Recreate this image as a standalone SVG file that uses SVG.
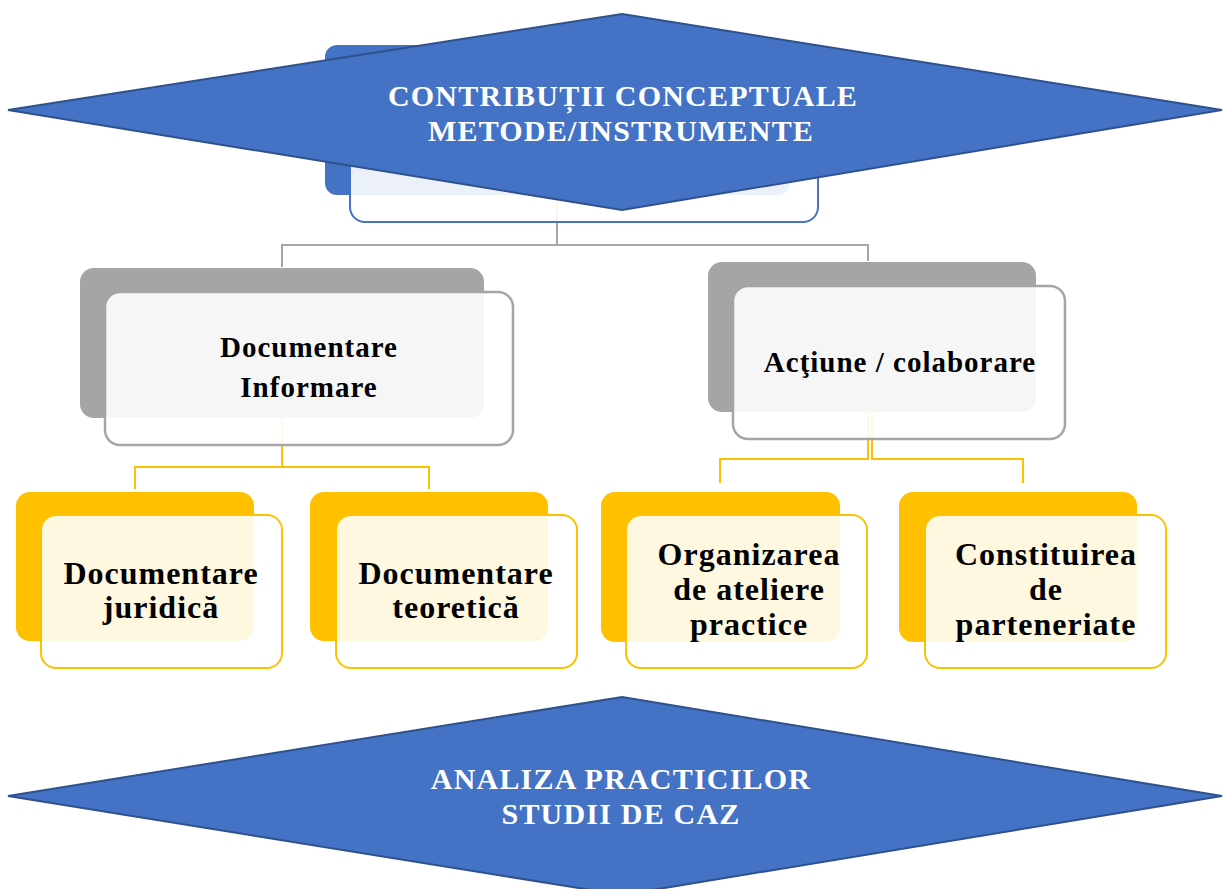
<svg xmlns="http://www.w3.org/2000/svg" width="1224" height="889" viewBox="0 0 1224 889">
<style>
.bg{fill:#ffffff}
.blueBack{fill:#4472c4}
.blueFront{fill:#ffffff;fill-opacity:0.9;stroke:#4472c4;stroke-width:2}
.grayBack{fill:#a5a5a5}
.grayFront{fill:#ffffff;fill-opacity:0.9;stroke:#a5a5a5;stroke-width:2.5}
.yBack{fill:#ffc000}
.yFront{fill:#ffffff;fill-opacity:0.88;stroke:#ffc000;stroke-width:2}
.cg{fill:none;stroke:#a5a5a5;stroke-width:2}
.cy{fill:none;stroke:#ffc000;stroke-width:2}
.diamond{fill:#4472c4;stroke:#2f528f;stroke-width:2}
.dt{font-family:"Liberation Serif","Times New Roman",serif;font-weight:bold;font-size:30px;fill:#ffffff;text-anchor:middle;letter-spacing:1.2px}
.gt{font-family:"Liberation Serif","Times New Roman",serif;font-weight:bold;font-size:29px;fill:#000000;text-anchor:middle;letter-spacing:1px}
.yt{font-family:"Liberation Serif","Times New Roman",serif;font-weight:bold;font-size:32px;fill:#000000;text-anchor:middle;letter-spacing:1px}
</style>
<rect class="bg" x="0" y="0" width="1224" height="889"/>

<!-- back cards -->
<g id="back-cards">
<rect class="blueBack" x="325" y="45" width="465" height="150" rx="12"/>
<rect class="grayBack" x="80" y="268" width="404" height="150" rx="14"/>
<rect class="grayBack" x="708" y="262" width="328" height="150" rx="14"/>
<rect class="yBack" x="16" y="492" width="238" height="149" rx="14"/>
<rect class="yBack" x="310" y="492" width="238" height="149" rx="14"/>
<rect class="yBack" x="601" y="492" width="239" height="150" rx="14"/>
<rect class="yBack" x="899" y="492" width="238" height="150" rx="14"/>
</g>

<g id="connectors">
<path class="cg" d="M557,195 V245 H282 V267"/>
<path class="cg" d="M557,245 H868 V261"/>
<path class="cy" d="M282,418 V467 H135 V489"/>
<path class="cy" d="M282,467 H429 V489"/>
<path class="cy" d="M868,412 V459 H720 V483"/>
<path class="cy" d="M872,412 V459 H1023 V483"/>
</g>

<g id="node-top">
<rect class="blueFront" x="350" y="70" width="468" height="152" rx="15"/>
</g>

<g id="node-documentare-informare">
<rect class="grayFront" x="105" y="292" width="408" height="153" rx="15"/>
<text class="gt" x="309" y="357">Documentare</text>
<text class="gt" x="309" y="397">Informare</text>
</g>

<g id="node-actiune">
<rect class="grayFront" x="733" y="286" width="332" height="153" rx="15"/>
<text class="gt" x="900" y="372">Acţiune / colaborare</text>
</g>

<g id="node-juridica">
<rect class="yFront" x="41" y="515" width="241" height="153" rx="15"/>
<text class="yt" x="161" y="584">Documentare</text>
<text class="yt" x="161" y="618">juridică</text>
</g>

<g id="node-teoretica">
<rect class="yFront" x="336" y="515" width="241" height="153" rx="15"/>
<text class="yt" x="456" y="584">Documentare</text>
<text class="yt" x="456" y="618">teoretică</text>
</g>

<g id="node-ateliere">
<rect class="yFront" x="626" y="515" width="241" height="153" rx="15"/>
<text class="yt" x="749" y="565">Organizarea</text>
<text class="yt" x="749" y="600">de ateliere</text>
<text class="yt" x="749" y="635">practice</text>
</g>

<g id="node-parteneriate">
<rect class="yFront" x="925" y="515" width="241" height="153" rx="15"/>
<text class="yt" x="1046" y="565">Constituirea</text>
<text class="yt" x="1046" y="600">de</text>
<text class="yt" x="1046" y="635">parteneriate</text>
</g>

<g id="diamond-top">
<polygon class="diamond" points="622,14 1222,110 622,210 8,110"/>
<text class="dt" x="623" y="106">CONTRIBUȚII CONCEPTUALE</text>
<text class="dt" x="621" y="141">METODE/INSTRUMENTE</text>
</g>

<g id="diamond-bottom">
<polygon class="diamond" points="622,697 1222,796 622,895 8,796"/>
<text class="dt" x="621" y="789">ANALIZA PRACTICILOR</text>
<text class="dt" x="621" y="824">STUDII DE CAZ</text>
</g>
</svg>
